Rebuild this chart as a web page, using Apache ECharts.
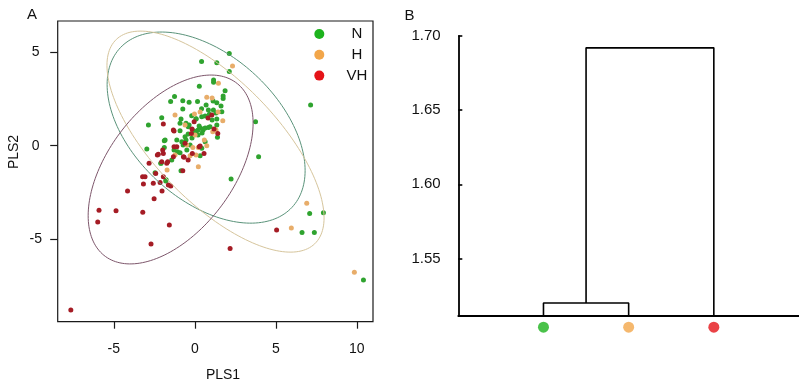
<!DOCTYPE html>
<html><head><meta charset="utf-8">
<script src="https://cdn.jsdelivr.net/npm/echarts@6/dist/echarts.min.js"></script>
<style>html,body{margin:0;padding:0;background:#fff}#c{width:799px;height:391px}</style>
</head><body><div id="c"></div>
<script>
// ---------- Panel A data (PLS scores) ----------
const groups = ['N', 'H', 'VH'];
const pointsN = [
  [2.13,4.93],[0.42,4.50],[1.36,4.44],[2.13,3.97],[1.16,3.51],[1.16,3.40],[0.28,3.18],[1.87,2.94],
  [-1.25,2.63],[-0.74,2.41],[-1.49,2.36],[-0.35,2.32],[0.17,2.36],[1.75,2.52],[1.75,2.66],[1.36,2.30],
  [-0.74,1.96],[0.42,1.98],[0.84,1.91],[1.15,1.91],[1.67,1.82],[7.15,2.18],[-2.04,1.50],[-0.85,1.43],
  [-0.19,1.60],[0.08,1.43],[0.64,1.59],[1.31,1.75],[1.36,1.43],[-2.86,1.11],[-0.91,1.20],[-0.35,1.11],
  [0.20,0.84],[0.33,0.95],[0.51,0.89],[0.08,0.73],[0.84,0.98],[1.36,1.11],[3.75,1.28],[-0.91,0.80],
  [-0.60,0.48],[-0.54,0.30],[-1.11,0.30],[-1.83,0.30],[-2.96,-0.18],[-1.88,-0.09],[-0.49,-0.23],[-0.91,-0.37],
  [0.33,-0.53],[3.94,-0.59],[-1.42,-0.76],[-2.10,-0.94],[-0.85,-1.34],[2.24,-1.78],[-2.45,-1.44],[-1.77,-1.82],
  [-1.79,-1.89],[7.09,-3.63],[7.94,-3.58],[6.62,-4.64],[7.38,-4.64],[10.41,-7.18],[-1.88,0.27],[-1.07,-0.32],
  [-2.08,-0.94],[0.51,0.84],[0.64,0.95],[0.94,1.02],[0.43,1.55],[0.90,1.68],[-0.40,1.02],[-0.54,1.20],
  [-0.29,0.04],[-0.80,0.21],[0.43,-0.14],[0.64,0.21],[1.40,0.45],[0.08,1.44],[0.27,1.05],[0.45,0.68],
  [-0.04,0.79],[0.20,0.57],[-0.17,0.41],[-0.72,0.04],[-1.28,-0.23],[1.13,2.39],[0.70,2.18],[1.62,2.12],
  [1.07,1.37],[-0.41,0.63]
];
const pointsH = [
  [2.33,4.26],[1.46,3.34],[0.74,2.59],[-1.22,1.64],[-0.02,1.70],[1.73,1.34],[1.11,0.75],[0.59,0.30],
  [0.74,0.00],[0.22,-0.09],[-0.12,-0.09],[-0.29,-0.53],[0.22,-1.12],[-1.22,-0.50],[0.02,0.57],[-0.49,0.04],
  [6.91,-3.08],[5.96,-4.40],[9.85,-6.77],[1.07,2.55],[0.33,1.80],[1.44,1.80],[0.08,-0.50],[-0.60,1.11],
  [1.31,0.84],[-1.71,-1.30]
];
const pointsVH = [
  [1.05,1.64],[1.42,0.66],[-0.04,1.28],[-0.21,0.66],[-0.17,0.89],[-1.32,0.84],[-1.94,1.16],[-1.28,-0.05],
  [-1.11,-0.05],[-0.60,0.13],[0.28,-0.05],[0.57,-0.41],[-1.94,-0.41],[-2.31,-0.50],[-0.70,-0.59],[-1.32,-0.59],
  [-2.82,-0.94],[-1.73,-0.94],[-3.22,-1.66],[-3.07,-1.66],[-2.56,-2.01],[-3.17,-2.05],[-1.94,-1.66],[-2.14,-1.97],
  [-1.63,-2.10],[-1.48,-2.16],[-2.41,-1.48],[-4.15,-2.42],[-2.02,-2.42],[-2.51,-2.83],[-5.91,-3.45],[-4.86,-3.48],
  [-3.21,-3.56],[-5.99,-4.08],[-1.57,-4.24],[-2.70,-5.26],[5.05,-4.51],[2.18,-5.49],[-7.65,-8.79],[-2.25,-0.46],
  [-2.04,-0.86],[-1.67,-0.86],[-0.74,-1.34],[-0.15,-0.41],[-1.98,-0.23],[0.33,-0.02],[-0.66,-0.62],[-1.28,0.79],
  [1.19,0.89],[0.82,1.48],[-0.41,-0.76]
];
// confidence ellipses: [centerX, centerY, halfWidthX, halfHeightY, correlation]
const ellipseN = [0.70, 0.97, 6.11, 5.11, -0.45];
const ellipseH = [1.28, 0.22, 6.70, 5.91, -0.69];
const ellipseVH = [-1.49, -1.27, 5.09, 5.05, 0.49];
const xTicksA = [-5, 0, 5, 10];
const yTicksA = [-5, 0, 5];

// ---------- Panel B data (dendrogram) ----------
const leafNames = ['N', 'H', 'VH'];
const leafX = [1, 2, 3];
const mergeHeights = [1.520, 1.692];
const baseB = 1.5114;
const yTicksB = [1.55, 1.60, 1.65, 1.70];

// ---------- styles ----------
const FF = '"Liberation Sans", Arial, sans-serif';
const pointColors = ['#2fa32f', '#e8ad6a', '#a51c25'];
const legendColors = ['#1db31d', '#f2a64a', '#e51318'];
const ellipseColors = ['#5a937a', '#d6c59c', '#7d566b'];
const TXT = '#111';

function ellipseSeries(params, color) {
  return {
    type: 'custom', xAxisIndex: 0, yAxisIndex: 0, z: 5, silent: true,
    data: [params],
    renderItem: function (p, api) {
      const cx = api.value(0), cy = api.value(1), rx = api.value(2), ry = api.value(3), r = api.value(4);
      const pts = [];
      const s = Math.sqrt(1 - r * r);
      for (let i = 0; i <= 180; i++) {
        const t = i / 180 * 2 * Math.PI;
        pts.push(api.coord([cx + rx * Math.cos(t), cy + ry * (r * Math.cos(t) + s * Math.sin(t))]));
      }
      return { type: 'polyline', shape: { points: pts }, style: { stroke: color, fill: null, lineWidth: 1 } };
    }
  };
}

const mid01 = (leafX[0] + leafX[1]) / 2;
const dendro1 = [[leafX[0], baseB], [leafX[0], mergeHeights[0]], [leafX[1], mergeHeights[0]], [leafX[1], baseB]];
const dendro2 = [[mid01, mergeHeights[0]], [mid01, mergeHeights[1]], [leafX[2], mergeHeights[1]], [leafX[2], baseB]];

const chart = echarts.init(document.getElementById('c'), null, { renderer: 'canvas' });
chart.setOption({
  animation: false,
  backgroundColor: '#fff',
  textStyle: { fontFamily: FF },
  grid: [
    { left: 57.7, top: 21, width: 315.3, height: 300.7, show: true, borderColor: '#1a1a1a', borderWidth: 1.2, backgroundColor: 'transparent' },
    { left: 458.3, top: 36, width: 341, height: 279.7 }
  ],
  xAxis: [
    { type: 'value', gridIndex: 0, min: -8.46, max: 11.0, splitLine: { show: false },
      axisLine: { show: false, onZero: false },
      axisTick: { show: true, inside: false, length: 7, customValues: xTicksA, lineStyle: { color: '#1a1a1a', width: 1.2 } },
      axisLabel: { customValues: xTicksA, margin: 20, fontSize: 14, color: TXT, fontFamily: FF } },
    { type: 'value', gridIndex: 1, min: 0, max: 4, splitLine: { show: false },
      axisLine: { show: true, onZero: false, lineStyle: { color: '#000', width: 1.8 } },
      axisTick: { show: false }, axisLabel: { show: false } }
  ],
  yAxis: [
    { type: 'value', gridIndex: 0, min: -9.41, max: 6.67, splitLine: { show: false },
      axisLine: { show: false, onZero: false },
      axisTick: { show: true, inside: false, length: 7.5, customValues: yTicksA, lineStyle: { color: '#1a1a1a', width: 1.2 } },
      axisLabel: { customValues: yTicksA, margin: 22, align: 'center', fontSize: 14, color: TXT, fontFamily: FF } },
    { type: 'value', gridIndex: 1, min: baseB, max: 1.70, splitLine: { show: false },
      axisLine: { show: true, onZero: false, lineStyle: { color: '#000', width: 1.8 } },
      axisTick: { show: true, inside: true, length: 4, customValues: yTicksB, lineStyle: { color: '#000', width: 1.6 } },
      axisLabel: { customValues: yTicksB, margin: 17.6, fontSize: 15, color: TXT, fontFamily: FF, formatter: v => v.toFixed(2) } }
  ],
  legend: {
    left: 314.3, top: 26.5, orient: 'vertical', padding: 0, itemGap: 5.8, itemWidth: 10, itemHeight: 10,
    icon: 'circle', selectedMode: false,
    data: groups.map((g, i) => ({ name: g, itemStyle: { color: legendColors[i] } })),
    formatter: n => '{t|' + n + '}',
    textStyle: { rich: { t: { width: 55, align: 'center', fontSize: 15, lineHeight: 17, fontFamily: FF, color: TXT } } }
  },
  graphic: [
    { type: 'text', x: 32, y: 15, style: { text: 'A', x: 0, y: 0, align: 'center', verticalAlign: 'middle', fontSize: 15, fontFamily: FF, fill: TXT } },
    { type: 'text', x: 409.5, y: 15.5, style: { text: 'B', x: 0, y: 0, align: 'center', verticalAlign: 'middle', fontSize: 15, fontFamily: FF, fill: TXT } },
    { type: 'text', x: 223, y: 375, style: { text: 'PLS1', x: 0, y: 0, align: 'center', verticalAlign: 'middle', fontSize: 14, fontFamily: FF, fill: TXT } },
    { type: 'text', x: 14, y: 152, rotation: Math.PI / 2, style: { text: 'PLS2', x: 0, y: 0, align: 'center', verticalAlign: 'middle', fontSize: 14, fontFamily: FF, fill: TXT } }
  ],
  series: [
    { name: 'N', type: 'scatter', xAxisIndex: 0, yAxisIndex: 0, symbolSize: 5, data: pointsN, itemStyle: { color: pointColors[0], opacity: 1 }, z: 3 },
    { name: 'H', type: 'scatter', xAxisIndex: 0, yAxisIndex: 0, symbolSize: 5, data: pointsH, itemStyle: { color: pointColors[1], opacity: 1 }, z: 3 },
    { name: 'VH', type: 'scatter', xAxisIndex: 0, yAxisIndex: 0, symbolSize: 5, data: pointsVH, itemStyle: { color: pointColors[2], opacity: 1 }, z: 3 },
    ellipseSeries(ellipseN, ellipseColors[0]),
    ellipseSeries(ellipseH, ellipseColors[1]),
    ellipseSeries(ellipseVH, ellipseColors[2]),
    { type: 'line', xAxisIndex: 1, yAxisIndex: 1, data: dendro1, symbol: 'none', clip: false, silent: true,
      lineStyle: { color: '#000', width: 1.6 } },
    { type: 'line', xAxisIndex: 1, yAxisIndex: 1, data: dendro2, symbol: 'none', clip: false, silent: true,
      lineStyle: { color: '#000', width: 1.6 } },
    { type: 'scatter', xAxisIndex: 1, yAxisIndex: 1, clip: false, silent: true, symbolSize: 11, symbolOffset: [0, 11.5],
      data: leafX.map((x, i) => ({ name: leafNames[i], value: [x, baseB], itemStyle: { color: legendColors[i] } })) }
  ]
});
</script></body></html>
